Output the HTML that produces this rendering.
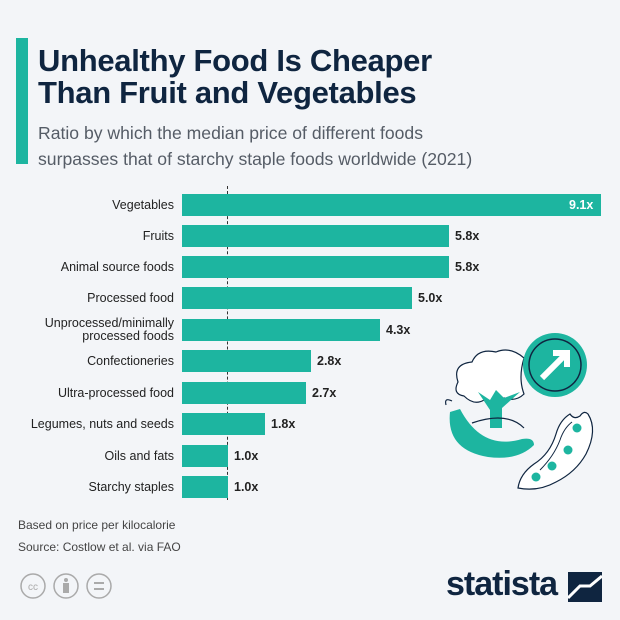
<!DOCTYPE html>
<html><head><meta charset="utf-8"><style>
body{margin:0;width:620px;height:620px;background:#f3f5f8;font-family:"Liberation Sans",sans-serif;position:relative;overflow:hidden}
.t{position:absolute;left:38px;top:45px;font-size:31px;font-weight:bold;color:#0f2540;line-height:32px;letter-spacing:-0.3px}
.s{position:absolute;left:38px;top:120px;font-size:17.6px;color:#555c66;line-height:26px}
.vb{position:absolute;left:16px;top:38px;width:12px;height:126px;background:#1db5a0}
.lab{position:absolute;right:446px;font-size:12.5px;color:#222;text-align:right;line-height:13px}
.bar{position:absolute;left:182px;height:22px;background:#1db5a0}
.v{position:absolute;font-size:12.5px;font-weight:bold;color:#222}
.f{position:absolute;left:18px;font-size:12px;color:#444}
</style></head><body>
<div class="vb"></div>
<div class="t">Unhealthy Food Is Cheaper<br>Than Fruit and Vegetables</div>
<div class="s">Ratio by which the median price of different foods<br>surpasses that of starchy staple foods worldwide (2021)</div>
<div style="position:absolute;left:227px;top:186px;height:314px;border-left:1px dashed #333"></div>

<div class="bar" style="top:194px;width:419px"></div><div class="v" style="left:569px;top:198px;color:#fff">9.1x</div><div class="lab" style="top:199px">Vegetables</div>
<div class="bar" style="top:225px;width:267px"></div><div class="v" style="left:455px;top:229px">5.8x</div><div class="lab" style="top:230px">Fruits</div>
<div class="bar" style="top:256px;width:267px"></div><div class="v" style="left:455px;top:260px">5.8x</div><div class="lab" style="top:261px">Animal source foods</div>
<div class="bar" style="top:287px;width:230px"></div><div class="v" style="left:418px;top:291px">5.0x</div><div class="lab" style="top:292px">Processed food</div>
<div class="bar" style="top:319px;width:198px"></div><div class="v" style="left:386px;top:323px">4.3x</div><div class="lab" style="top:317px">Unprocessed/minimally<br>processed foods</div>
<div class="bar" style="top:350px;width:129px"></div><div class="v" style="left:317px;top:354px">2.8x</div><div class="lab" style="top:355px">Confectioneries</div>
<div class="bar" style="top:382px;width:124px"></div><div class="v" style="left:312px;top:386px">2.7x</div><div class="lab" style="top:387px">Ultra-processed food</div>
<div class="bar" style="top:413px;width:83px"></div><div class="v" style="left:271px;top:417px">1.8x</div><div class="lab" style="top:418px">Legumes, nuts and seeds</div>
<div class="bar" style="top:445px;width:46px"></div><div class="v" style="left:234px;top:449px">1.0x</div><div class="lab" style="top:450px">Oils and fats</div>
<div class="bar" style="top:476px;width:46px"></div><div class="v" style="left:234px;top:480px">1.0x</div><div class="lab" style="top:481px">Starchy staples</div>

<svg style="position:absolute;left:0;top:0" width="620" height="620">
<path d="M458 382 q-6-18 14-20 q6-14 24-10 q14-6 28 6 q-6 20 0 36 q-8 8 -20 4 q-8 8 -20 2 q-10 6 -20-4 q-12-2 -6-14z" fill="#fff" stroke="#0f2540" stroke-width="1.2"/>
<path d="M478 392 L490 410 L490 428 L502 428 L502 408 L520 392 L504 398 L496 390 L490 400z" fill="#1db5a0"/>
<path d="M450 412 q-4 38 38 45 q30 4 46-12 q0-8 -12-6 q-40 12 -62-30z" fill="#1db5a0"/>
<path d="M446 405 q-2-8 6-4" stroke="#0f2540" fill="none" stroke-width="1.2"/>
<path d="M472 423 q35-12 52 5" stroke="#0f2540" fill="none" stroke-width="1.2"/>
<circle cx="555" cy="365" r="32" fill="#1db5a0"/><circle cx="555" cy="365" r="26" fill="none" stroke="#0f2540" stroke-width="1.5"/>
<path d="M542 378 L566 354 M553 353 H567 V367" stroke="#fff" stroke-width="6" fill="none"/>
<path d="M518 488 q2-14 16-24 q16-10 22-30 q4-14 14-20 q4 6 10 2 q4-6 8-2 q10 16 -2 40 q-10 18 -30 28 q-18 10 -38 6z" fill="#fff" stroke="#0f2540" stroke-width="1.2"/>
<path d="M540 470 q14-14 20-30 q4-12 12-18" stroke="#0f2540" fill="none" stroke-width="1"/>
<circle cx="577" cy="428" r="4.5" fill="#1db5a0"/><circle cx="568" cy="450" r="4.5" fill="#1db5a0"/><circle cx="552" cy="466" r="4.5" fill="#1db5a0"/><circle cx="536" cy="477" r="4.5" fill="#1db5a0"/>
</svg>

<div class="f" style="top:518px">Based on price per kilocalorie</div>
<div class="f" style="top:540px">Source: Costlow et al. via FAO</div>
<svg style="position:absolute;left:18px;top:570px" width="110" height="34">
<g fill="none" stroke="#aaa" stroke-width="1.5"><circle cx="15" cy="16" r="12"/><circle cx="48" cy="16" r="12"/><circle cx="81" cy="16" r="12"/></g>
<text x="15" y="20" font-size="10" fill="#aaa" text-anchor="middle" font-family="Liberation Sans">cc</text>
<circle cx="48" cy="10" r="2" fill="#aaa"/><rect x="45" y="13" width="6" height="10" fill="#aaa"/>
<rect x="76" y="12" width="10" height="2" fill="#aaa"/><rect x="76" y="18" width="10" height="2" fill="#aaa"/>
</svg>
<div style="position:absolute;left:446px;top:565px;font-size:34px;font-weight:bold;color:#0f2540;letter-spacing:-1px">statista</div>
<svg style="position:absolute;left:568px;top:572px" width="34" height="30"><rect width="34" height="30" fill="#0f2540"/><path d="M0 26 L12 14 H22 L34 4" stroke="#fff" stroke-width="3" fill="none"/></svg>
</body></html>
